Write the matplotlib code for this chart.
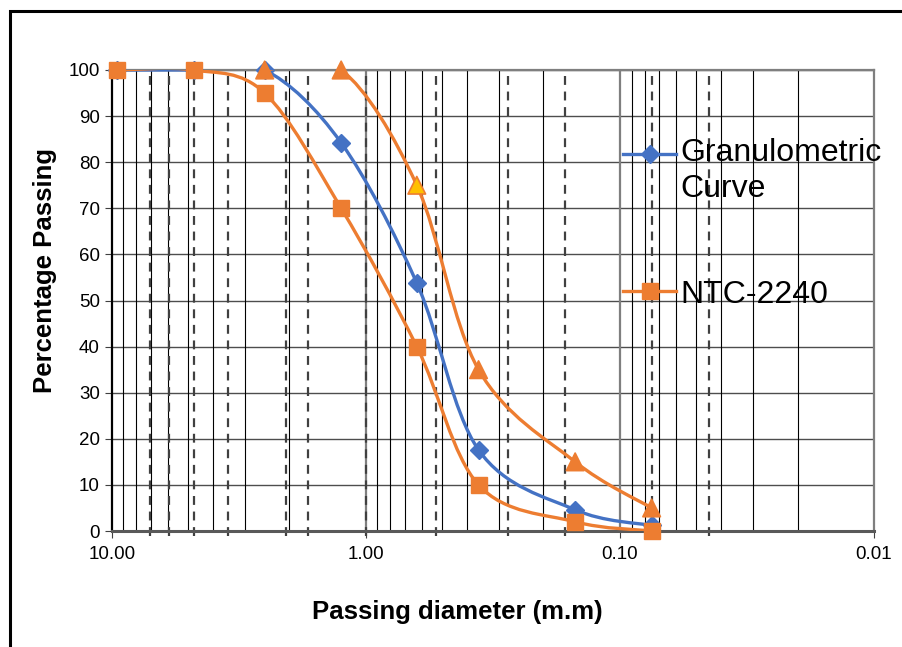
import numpy as np
import matplotlib
matplotlib.use("Agg")
from matplotlib import pyplot as plt
from matplotlib.path import Path
from matplotlib.patches import PathPatch, Rectangle
from matplotlib.lines import Line2D
from matplotlib.legend_handler import HandlerLine2D
from matplotlib.ticker import FixedLocator, FuncFormatter

plt.rcParams['font.family'] = ['Liberation Sans', 'DejaVu Sans']

# sieve sizes (mm) and percentages passing
sizes = [9.5, 4.75, 2.5, 1.25, 0.63, 0.36, 0.15, 0.075]
granulo = [100, 100, 100, 84.2, 53.8, 17.6, 4.6, 1.2]
ntc_low = [100, 100, 95, 70, 40, 10, 2, 0]
ntc_high_sizes = [2.5, 1.25, 0.63, 0.36, 0.15, 0.075]
ntc_high = [100, 100, 75, 35, 15, 5]

# dashed reference lines (mm)
dashed_x = [7.06, 5.94, 4.76, 3.49, 2.07, 1.69, 1.0, 0.53, 0.275, 0.164, 0.0746, 0.0444]

BLUE = '#4472C4'
ORANGE = '#ED7D31'
GOLD = '#FFC000'


def smooth_path(xs, ys):
    # excel-like smoothed line: cubic bezier through the points, in log-x space
    u = np.log10(np.asarray(xs, dtype=float))
    v = np.asarray(ys, dtype=float)
    pts = np.column_stack([u, v])
    n = len(pts)
    verts = [pts[0]]
    codes = [Path.MOVETO]
    for i in range(n - 1):
        p0 = pts[max(i - 1, 0)]
        p1 = pts[i]
        p2 = pts[i + 1]
        p3 = pts[min(i + 2, n - 1)]
        c1 = p1 + (p2 - p0) / 6.0
        c2 = p2 - (p3 - p1) / 6.0
        verts += [c1, c2, p2]
        codes += [Path.CURVE4] * 3
    verts = np.array(verts)
    verts[:, 0] = 10 ** verts[:, 0]
    return Path(verts, codes)


class ShiftedHandler(HandlerLine2D):
    # legend handle lifted to the first line of a two-line label
    def __init__(self, shift=0.0, **kw):
        super().__init__(**kw)
        self.shift = shift

    def create_artists(self, legend, orig_handle, xdescent, ydescent, width, height, fontsize, trans):
        arts = super().create_artists(legend, orig_handle, xdescent, ydescent, width, height, fontsize, trans)
        for a in arts:
            a.set_ydata(np.asarray(a.get_ydata()) + self.shift)
        return arts


fig = plt.figure(figsize=(9.02, 6.47), dpi=100)
ax = fig.add_axes([111.7 / 902, 1 - 531 / 647, (874 - 111.7) / 902, 461 / 647])

# outer frame
fig.patches.append(Rectangle((10 / 902, -0.2), 1.2, 1.2 - 11 / 647, transform=fig.transFigure,
                             fill=False, edgecolor='black', lw=2.2, zorder=0))

ax.set_xscale('log')
ax.set_xlim(10, 0.01)
ax.set_ylim(0, 100)

# grid
ax.set_yticks(np.arange(0, 101, 10))
for yv in np.arange(10, 101, 10):
    ax.axhline(yv, color='#4d4d4d', lw=1.0, zorder=1)
minor = [m * 10.0 ** e for e in (-2, -1, 0) for m in range(2, 10)]
for xv in minor:
    ax.axvline(xv, color='black', lw=0.8, zorder=1)
for xv in (1.0, 0.1):
    ax.axvline(xv, color='#7f7f7f', lw=1.6, zorder=1)
ax.vlines(dashed_x, -1, 100, colors='#404040', lw=1.6, linestyles=(0, (4, 3)),
          zorder=2, clip_on=False)

# series
ax.add_patch(PathPatch(smooth_path(sizes, granulo), fill=False, edgecolor=BLUE, lw=2.4, zorder=3))
ax.plot(sizes, granulo, ls='none', marker='D', ms=9, color=BLUE, zorder=4, clip_on=False)

ax.add_patch(PathPatch(smooth_path(sizes, ntc_low), fill=False, edgecolor=ORANGE, lw=2.4, zorder=5))
ax.plot(sizes, ntc_low, ls='none', marker='s', ms=12, color=ORANGE, zorder=6, clip_on=False)

ax.add_patch(PathPatch(smooth_path(ntc_high_sizes, ntc_high), fill=False, edgecolor=ORANGE, lw=2.4, zorder=5))
tri_face = [GOLD if y == 75 else ORANGE for y in ntc_high]
ax.scatter(ntc_high_sizes, ntc_high, marker='^', s=160, c=tri_face, edgecolors=ORANGE,
           linewidths=1.2, zorder=6, clip_on=False)

# axes styling
ax.spines['bottom'].set_color('#595959')
ax.spines['bottom'].set_linewidth(2.2)
ax.spines['top'].set_color('#7f7f7f')
ax.spines['top'].set_linewidth(1.6)
ax.spines['right'].set_color('#7f7f7f')
ax.spines['right'].set_linewidth(1.6)
ax.spines['left'].set_color('black')
ax.spines['left'].set_linewidth(1.6)

ax.xaxis.set_major_locator(FixedLocator([10, 1, 0.1, 0.01]))
ax.xaxis.set_major_formatter(FuncFormatter(lambda v, p: '%.2f' % v))
ax.xaxis.set_minor_locator(FixedLocator([]))
ax.tick_params(axis='both', which='major', labelsize=13.5, length=5, direction='out', color='#404040')
ax.tick_params(axis='x', pad=6)

ax.set_xlabel('Passing diameter (m.m)', fontsize=18.5, fontweight='bold')
ax.xaxis.set_label_coords(0.454, -0.15)
ax.set_ylabel('Percentage Passing', fontsize=18.5, fontweight='bold')
ax.yaxis.set_label_coords(-0.072, 0.564)

handles = [
    Line2D([], [], color=BLUE, lw=2.4, marker='D', ms=9),
    Line2D([], [], color=ORANGE, lw=2.4, marker='s', ms=12),
]
leg = ax.legend(handles, ['Granulometric\nCurve', 'NTC-2240'], loc='upper left',
                bbox_to_anchor=(0.671, 0.852), frameon=False, fontsize=23,
                handlelength=1.65, handletextpad=0.15, labelspacing=2.35,
                borderpad=0, borderaxespad=0,
                handler_map={handles[0]: ShiftedHandler(shift=13)})
for t in leg.get_texts():
    t.set_linespacing(1.27)

fig.savefig('out.png', dpi=100)
